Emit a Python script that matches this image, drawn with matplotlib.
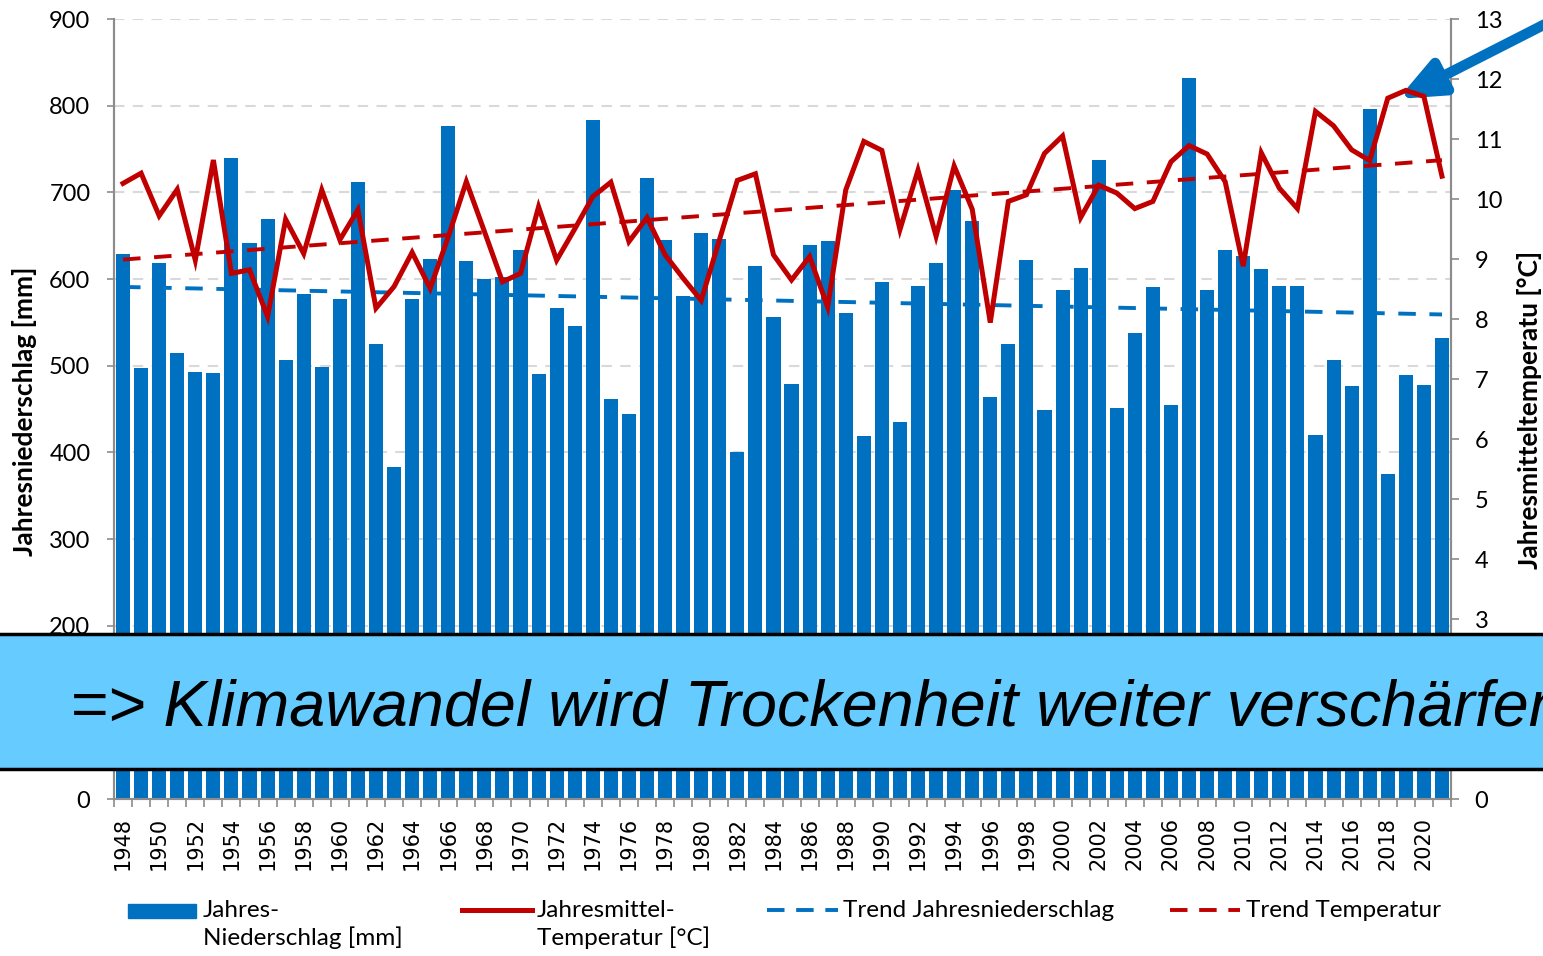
import matplotlib
matplotlib.use("Agg")
import matplotlib.pyplot as plt
import numpy as np
from matplotlib.lines import Line2D
from matplotlib.patches import Rectangle

years = list(range(1948, 2022))

niederschlag = [
    629, 497, 618, 515, 493, 492, 740, 642, 669, 506,
    583, 498, 577, 712, 525, 383, 577, 623, 777, 621,
    600, 602, 633, 490, 566, 546, 783, 462, 444, 716,
    645, 580, 653, 646, 400, 615, 556, 479, 639, 644,
    561, 419, 596, 435, 592, 619, 703, 667, 464, 525,
    622, 449, 587, 613, 737, 451, 538, 591, 455, 832,
    587, 633, 626, 611, 592, 592, 420, 507, 477, 796,
    375, 489, 478, 532,
]

temperatur = [
    10.26, 10.43, 9.72, 10.16, 8.98, 10.65, 8.76, 8.82, 8.04, 9.66,
    9.09, 10.15, 9.32, 9.82, 8.18, 8.54, 9.11, 8.51, 9.37, 10.29,
    9.46, 8.62, 8.76, 9.87, 8.98, 9.50, 10.04, 10.28, 9.29, 9.69,
    9.07, 8.68, 8.31, 9.31, 10.31, 10.42, 9.07, 8.65, 9.04, 8.20,
    10.15, 10.96, 10.81, 9.49, 10.48, 9.38, 10.55, 9.83, 7.94, 9.96,
    10.07, 10.76, 11.05, 9.69, 10.23, 10.10, 9.84, 9.96, 10.62, 10.89,
    10.75, 10.29, 8.88, 10.77, 10.18, 9.84, 11.46, 11.22, 10.82, 10.64,
    11.68, 11.81, 11.71, 10.38,
]

legend_labels = ["Jahres-\nNiederschlag [mm]", "Jahresmittel-\nTemperatur [°C]",
                 "Trend Jahresniederschlag", "Trend Temperatur"]

BLUE = "#0070C0"
RED = "#C00000"
GRAY = "#8C8C8C"
FONT = "Lato"

W, H = 1543, 956
fig = plt.figure(figsize=(W / 100, H / 100), dpi=100)
ax = fig.add_axes([114 / W, 1 - 799 / H, (1451 - 114) / W, (799 - 19) / H])
ax2 = ax.twinx()

x = np.arange(len(years))
ax.bar(x, niederschlag, width=0.78, color=BLUE, zorder=2)

# trend lines (linear fit)
p_n = np.polyfit(x, niederschlag, 1)
p_t = np.polyfit(x, temperatur, 1)
ax.plot(x, np.polyval(p_n, x), color=BLUE, lw=2.8, ls=(0, (4.5, 3.5)), zorder=3)
ax2.plot(x, np.polyval(p_t, x), color=RED, lw=2.8, ls=(0, (4.5, 3.5)), zorder=3)
ax2.plot(x, temperatur, color=RED, lw=3.6, solid_joinstyle="miter", zorder=4)

ax.set_xlim(-0.5, len(years) - 0.5)
ax.set_ylim(0, 900)
ax2.set_ylim(0, 13)
ax.set_yticks(range(0, 901, 100))
ax2.set_yticks(range(0, 14))

ax.grid(axis="y", color="#D9D9D9", lw=1.5, ls=(0, (5, 4)), zorder=0)
ax.set_axisbelow(True)

for a in (ax, ax2):
    a.spines["top"].set_visible(False)
    for s in ("left", "right", "bottom"):
        a.spines[s].set_color(GRAY)
        a.spines[s].set_linewidth(1.5)

ax.tick_params(axis="y", length=5, width=1.2, color=GRAY, labelsize=17, pad=12)
ax2.tick_params(axis="y", length=6, width=1.2, color=GRAY, labelsize=17, pad=11)
for lab in ax.get_yticklabels() + ax2.get_yticklabels():
    lab.set_fontfamily(FONT)

ax.set_xticks(x[::2])
ax.set_xticklabels([str(y) for y in years[::2]], rotation=90, fontsize=15,
                   fontfamily="DejaVu Sans")
ax.set_xticks(np.arange(-0.5, len(years)), minor=True)
ax.tick_params(axis="x", which="major", length=0, pad=13)
ax.tick_params(axis="x", which="minor", length=6, width=1.2, color=GRAY)

fig.text(25 / W, 1 - 411 / H, "Jahresniederschlag [mm]", rotation=90, ha="center",
         va="center", fontsize=19, fontweight="bold", family=FONT)
fig.text(1529 / W, 1 - 410 / H, "Jahresmitteltemperatu [°C]", rotation=90,
         ha="center", va="center", fontsize=19, fontweight="bold", family=FONT)

# legend, drawn by hand so the handles sit on the first text line
ly = 1 - 910 / H
fig.add_artist(Rectangle((128 / W, 1 - 918 / H), 68 / W, 14 / H, color=BLUE,
                         transform=fig.transFigure))
fig.add_artist(Line2D([462 / W, 532 / W], [ly, ly], color=RED, lw=3.6,
                      transform=fig.transFigure))
fig.add_artist(Line2D([767 / W, 838 / W], [ly, ly], color=BLUE, lw=2.8,
                      ls=(0, (4.5, 3.0)), transform=fig.transFigure))
fig.add_artist(Line2D([1170 / W, 1240 / W], [ly, ly], color=RED, lw=2.8,
                      ls=(0, (4.5, 3.0)), transform=fig.transFigure))
for xt, lab in zip([203, 537, 843, 1246], legend_labels):
    fig.text(xt / W, 1 - 900 / H, lab, ha="left", va="top", fontsize=17.5,
             family=FONT, linespacing=1.3)

# banner
fig.add_artist(Rectangle((-0.01, 1 - 769 / H), 1.02, 135 / H, facecolor="#66CCFF",
                         edgecolor="black", lw=2.5, transform=fig.transFigure,
                         zorder=5))
fig.text(70 / W, 1 - 709 / H, "=> Klimawandel wird Trockenheit weiter verschärfen",
         ha="left", va="center", fontsize=46.5, style="italic",
         family="Liberation Sans", zorder=6)

# arrow pointing at the last years
ax2.annotate("", xy=(1398, H - 99), xycoords="figure pixels",
             xytext=(1565, H - 14), textcoords="figure pixels",
             arrowprops=dict(arrowstyle="-|>,head_length=2.6,head_width=1.1",
                             color=BLUE, lw=7.5, shrinkA=0, shrinkB=0,
                             mutation_scale=10),
             annotation_clip=False)

fig.savefig("out.png", dpi=100)
